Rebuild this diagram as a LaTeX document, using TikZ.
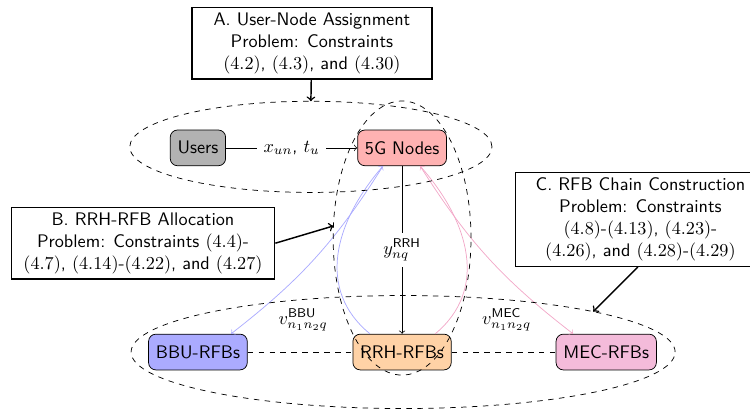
\documentclass[tikz,border=0pt]{standalone}
\usepackage{amsmath}
\usepackage{amssymb}
\usetikzlibrary{shapes.geometric}
\definecolor{mecpink}{RGB}{244,187,218}
\definecolor{linkpink}{RGB}{242,168,200}
\definecolor{linkblue}{RGB}{170,170,255}

\begin{document}
\begin{tikzpicture}[font=\sffamily,
  fnode/.style={draw, rounded corners=4pt, minimum height=0.69cm, inner xsep=4pt},
  prob/.style={draw, thick, align=center, inner sep=3pt},
  group/.style={draw, dashed, ellipse, inner sep=0pt, outer sep=0pt}]
  \useasboundingbox (0,0) rectangle (14.475,7.894);
  % function nodes
  \node[fnode, fill=black!30] (users) at (3.82,5.04) {Users};
  \node[fnode, fill=red!30] (fiveg) at (7.76,5.04) {5G Nodes};
  \node[fnode, fill=blue!33] (bbu) at (3.82,1.10) {BBU-RFBs};
  \node[fnode, fill=orange!35] (rrh) at (7.76,1.10) {RRH-RFBs};
  \node[fnode, fill=mecpink] (mec) at (11.70,1.10) {MEC-RFBs};
  % links
  \draw[->] (users) -- node[fill=white] {$x_{un}$, $t_u$} (fiveg);
  \draw[->] (fiveg) -- node[fill=white] {$y^{\textsf{RRH}}_{nq}$} (rrh);
  \draw[dashed] (bbu) -- (rrh) -- (mec);
  \draw[->, linkblue] ([xshift=-0.62cm]rrh.north) .. controls (6.1,2.3) and (6.45,3.6) .. ([xshift=-0.37cm]fiveg.south);
  \draw[->, linkblue] ([xshift=-0.37cm]fiveg.south) to[bend left=10] ([xshift=0.64cm]bbu.north);
  \draw[->, linkpink] ([xshift=0.64cm]rrh.north) .. controls (9.42,2.3) and (9.07,3.6) .. ([xshift=0.35cm]fiveg.south);
  \draw[->, linkpink] ([xshift=0.35cm]fiveg.south) to[bend right=10] ([xshift=-0.64cm]mec.north);
  \node (vbbu) at (5.85,1.72) {$v^{\textsf{BBU}}_{n_1n_2q}$};
  \node (vmec) at (9.78,1.72) {$v^{\textsf{MEC}}_{n_1n_2q}$};
  % groups
  \node[group, minimum width=6.99cm, minimum height=1.76cm] (upper) at (6.00,5.06) {};
  \node[group, minimum width=10.50cm, minimum height=2.18cm] (lower) at (7.78,1.10) {};
  \node[group, minimum width=2.66cm, minimum height=5.29cm] (vert) at (7.76,3.30) {};
  % problems
  \node[prob, minimum width=4.63cm] (probA) at (6.02,7.06)
    {A. User-Node Assignment\\Problem: Constraints\\$(4.2)$, $(4.3)$, and $(4.30)$};
  \node[prob, minimum width=5.08cm] (probB) at (2.76,3.20)
    {B. RRH-RFB Allocation\\Problem: Constraints $(4.4)$-\\$(4.7)$, $(4.14)$-$(4.22)$, and $(4.27)$};
  \node[prob, minimum width=4.82cm] (probC) at (12.36,3.66)
    {C. RFB Chain Construction\\Problem: Constraints\\$(4.8)$-$(4.13)$, $(4.23)$-\\$(4.26)$, and $(4.28)$-$(4.29)$};
  \draw[->, thick] (probA) -- (upper.north);
  \draw[->, thick] (probB.east) -- (vert.170);
  \draw[->, thick] ([xshift=-0.05cm]probC.south) -- (lower.12);
\end{tikzpicture}
\end{document}
